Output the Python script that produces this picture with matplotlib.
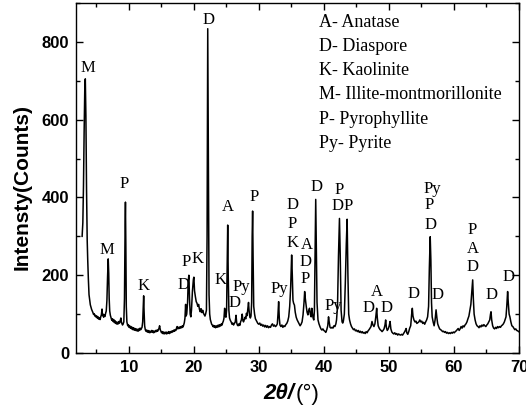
import matplotlib.pyplot as plt
from matplotlib.ticker import MultipleLocator

# XRD pattern (2theta in degrees, intensity in counts)
two_theta = [
    2.84, 2.95, 3.05, 3.15, 3.25, 3.33, 3.42, 3.52, 3.62, 3.70, 3.80, 3.90, 4.00, 4.10, 4.20, 4.30,
    4.40, 4.50, 4.60, 4.70, 4.80, 4.90, 5.00, 5.10, 5.20, 5.30, 5.40, 5.50, 5.60, 5.70, 5.80, 5.90,
    5.97, 6.05, 6.15, 6.25, 6.35, 6.45, 6.55, 6.65, 6.75, 6.85, 6.93, 7.00, 7.08, 7.18, 7.30, 7.40,
    7.50, 7.60, 7.70, 7.80, 7.90, 8.00, 8.10, 8.20, 8.30, 8.40, 8.50, 8.60, 8.70, 8.80, 8.88, 8.95,
    9.05, 9.15, 9.25, 9.35, 9.45, 9.50, 9.56, 9.63, 9.72, 9.85, 9.95, 10.05, 10.15, 10.25, 10.35, 10.45,
    10.55, 10.65, 10.75, 10.85, 10.95, 11.05, 11.15, 11.25, 11.35, 11.45, 11.55, 11.65, 11.75, 11.85, 11.95, 12.05,
    12.15, 12.25, 12.30, 12.36, 12.45, 12.55, 12.65, 12.75, 12.85, 12.95, 13.05, 13.15, 13.25, 13.35, 13.45, 13.55,
    13.65, 13.75, 13.85, 13.95, 14.05, 14.15, 14.25, 14.35, 14.45, 14.55, 14.65, 14.75, 14.85, 14.95, 15.05, 15.15,
    15.25, 15.35, 15.45, 15.55, 15.65, 15.75, 15.85, 15.95, 16.05, 16.15, 16.25, 16.35, 16.45, 16.55, 16.65, 16.75,
    16.85, 16.95, 17.05, 17.15, 17.25, 17.35, 17.45, 17.55, 17.65, 17.75, 17.85, 17.95, 18.05, 18.15, 18.25, 18.35,
    18.45, 18.55, 18.65, 18.75, 18.82, 18.92, 19.05, 19.15, 19.25, 19.35, 19.45, 19.55, 19.65, 19.80, 19.95, 20.02,
    20.12, 20.25, 20.38, 20.50, 20.62, 20.75, 20.88, 21.00, 21.12, 21.25, 21.38, 21.50, 21.62, 21.72, 21.82, 21.95,
    22.05, 22.15, 22.25, 22.35, 22.45, 22.55, 22.65, 22.75, 22.85, 22.95, 23.05, 23.15, 23.25, 23.35, 23.45, 23.55,
    23.65, 23.75, 23.85, 23.95, 24.05, 24.15, 24.25, 24.35, 24.45, 24.55, 24.65, 24.75, 24.85, 24.95, 25.05, 25.15,
    25.22, 25.30, 25.40, 25.50, 25.62, 25.75, 25.88, 26.00, 26.12, 26.25, 26.38, 26.50, 26.60, 26.70, 26.82, 26.95,
    27.08, 27.20, 27.32, 27.45, 27.55, 27.65, 27.78, 27.90, 28.00, 28.10, 28.20, 28.32, 28.42, 28.50, 28.60, 28.70,
    28.80, 28.90, 28.98, 29.05, 29.12, 29.22, 29.35, 29.48, 29.60, 29.72, 29.85, 30.00, 30.15, 30.30, 30.45, 30.60,
    30.75, 30.90, 31.05, 31.20, 31.35, 31.50, 31.65, 31.80, 31.95, 32.10, 32.25, 32.40, 32.55, 32.70, 32.85, 32.95,
    33.05, 33.15, 33.25, 33.40, 33.55, 33.70, 33.85, 34.00, 34.15, 34.30, 34.45, 34.60, 34.75, 34.90, 35.05, 35.15,
    35.25, 35.35, 35.48, 35.60, 35.75, 35.90, 36.05, 36.20, 36.35, 36.50, 36.65, 36.80, 36.95, 37.05, 37.15, 37.30,
    37.42, 37.55, 37.68, 37.80, 37.92, 38.05, 38.15, 38.25, 38.35, 38.45, 38.55, 38.65, 38.75, 38.85, 38.95, 39.10,
    39.25, 39.40, 39.55, 39.70, 39.85, 40.00, 40.15, 40.30, 40.45, 40.60, 40.72, 40.82, 40.95, 41.10, 41.25, 41.40,
    41.55, 41.70, 41.85, 41.95, 42.10, 42.25, 42.40, 42.52, 42.65, 42.80, 42.90, 43.00, 43.15, 43.30, 43.45, 43.58,
    43.70, 43.82, 43.95, 44.10, 44.25, 44.40, 44.55, 44.70, 44.85, 45.00, 45.15, 45.30, 45.45, 45.60, 45.75, 45.90,
    46.05, 46.20, 46.35, 46.50, 46.65, 46.80, 46.95, 47.10, 47.25, 47.40, 47.55, 47.70, 47.85, 48.00, 48.12, 48.22,
    48.35, 48.50, 48.65, 48.80, 48.95, 49.10, 49.25, 49.40, 49.50, 49.62, 49.75, 49.90, 50.05, 50.18, 50.30, 50.45,
    50.60, 50.75, 50.90, 51.05, 51.20, 51.35, 51.50, 51.65, 51.80, 51.95, 52.10, 52.25, 52.40, 52.55, 52.65, 52.75,
    52.90, 53.05, 53.20, 53.35, 53.50, 53.60, 53.70, 53.85, 54.00, 54.15, 54.30, 54.45, 54.60, 54.75, 54.90, 55.05,
    55.20, 55.35, 55.50, 55.65, 55.80, 55.95, 56.10, 56.22, 56.35, 56.45, 56.55, 56.65, 56.80, 56.95, 57.10, 57.25,
    57.38, 57.50, 57.65, 57.80, 57.95, 58.10, 58.25, 58.40, 58.55, 58.70, 58.85, 59.00, 59.15, 59.30, 59.45, 59.60,
    59.75, 59.90, 60.05, 60.20, 60.35, 60.50, 60.65, 60.80, 60.95, 61.10, 61.25, 61.40, 61.55, 61.70, 61.85, 62.00,
    62.15, 62.30, 62.45, 62.60, 62.75, 62.88, 62.98, 63.10, 63.25, 63.40, 63.55, 63.70, 63.85, 64.00, 64.15, 64.30,
    64.45, 64.60, 64.75, 64.90, 65.05, 65.20, 65.35, 65.50, 65.62, 65.70, 65.80, 65.95, 66.10, 66.25, 66.40, 66.55,
    66.70, 66.85, 67.00, 67.15, 67.30, 67.45, 67.60, 67.75, 67.90, 68.00, 68.12, 68.25, 68.35, 68.48, 68.60, 68.75,
    68.90, 69.05, 69.20, 69.35, 69.50, 69.65, 69.80, 69.95,
]
intensity = [
    300, 335, 430, 570, 680, 705, 610, 420, 290, 240, 190, 150, 136, 124, 118, 112,
    108, 104, 99, 101, 95, 97, 92, 95, 89, 93, 87, 90, 86, 93, 98, 113,
    96, 100, 92, 98, 94, 102, 108, 135, 195, 242, 205, 140, 108, 97, 90, 84,
    88, 81, 86, 78, 83, 76, 80, 74, 79, 75, 81, 77, 83, 90, 80, 76,
    72, 75, 80, 140, 330, 388, 280, 120, 80, 70, 73, 66, 70, 64, 68, 62,
    66, 60, 65, 59, 63, 58, 62, 57, 61, 56, 62, 58, 64, 60, 63, 66,
    80, 130, 147, 110, 70, 60, 56, 59, 54, 58, 53, 57, 52, 56, 54, 58,
    53, 57, 52, 56, 54, 58, 55, 59, 56, 60, 63, 70, 60, 56, 52, 55,
    50, 54, 49, 53, 50, 54, 49, 53, 51, 55, 50, 54, 52, 56, 53, 57,
    55, 59, 56, 60, 58, 64, 68, 62, 66, 63, 67, 64, 68, 65, 70, 67,
    72, 78, 90, 125, 95, 100, 130, 185, 200, 140, 100, 93, 110, 160, 190, 195,
    160, 145, 132, 128, 120, 125, 112, 106, 114, 104, 110, 102, 98, 95, 100, 110,
    300, 834, 500, 150, 100, 86, 80, 74, 72, 68, 71, 66, 70, 65, 69, 66,
    71, 67, 72, 68, 73, 70, 75, 72, 78, 82, 90, 115, 95, 92, 110, 250,
    329, 200, 110, 90, 84, 80, 74, 77, 72, 76, 80, 97, 78, 72, 70, 75,
    71, 80, 85, 100, 84, 80, 86, 92, 88, 102, 96, 115, 130, 110, 95, 90,
    95, 130, 300, 365, 250, 120, 100, 88, 84, 80, 76, 74, 77, 71, 74, 69,
    72, 67, 71, 66, 70, 65, 68, 66, 72, 75, 69, 72, 68, 70, 75, 100,
    132, 90, 72, 68, 72, 66, 70, 68, 73, 76, 82, 93, 120, 170, 252, 200,
    136, 128, 123, 105, 92, 85, 80, 75, 70, 74, 80, 98, 130, 158, 140, 119,
    105, 98, 110, 115, 100, 93, 115, 100, 90, 85, 110, 250, 395, 260, 130, 85,
    75, 68, 62, 59, 62, 58, 56, 53, 60, 70, 93, 80, 66, 64, 66, 64,
    70, 68, 75, 85, 120, 250, 346, 250, 110, 80, 77, 82, 100, 180, 280, 344,
    200, 100, 85, 75, 68, 64, 60, 62, 57, 59, 55, 58, 53, 56, 52, 55,
    51, 53, 50, 55, 52, 57, 60, 64, 68, 81, 72, 68, 75, 95, 115, 90,
    70, 64, 60, 58, 55, 58, 62, 72, 85, 65, 58, 62, 70, 81, 62, 54,
    51, 49, 52, 48, 50, 46, 49, 47, 46, 48, 46, 50, 54, 59, 63, 52,
    48, 55, 64, 70, 100, 115, 95, 85, 80, 82, 76, 78, 80, 85, 80, 82,
    76, 79, 74, 80, 85, 93, 120, 220, 299, 240, 130, 93, 80, 70, 85, 111,
    90, 75, 68, 62, 60, 58, 55, 56, 53, 55, 51, 53, 50, 52, 50, 53,
    51, 54, 52, 55, 57, 60, 63, 58, 62, 68, 64, 70, 67, 72, 75, 80,
    88, 95, 110, 125, 160, 188, 140, 100, 85, 75, 70, 68, 65, 70, 67, 72,
    69, 73, 70, 68, 72, 75, 80, 85, 100, 106, 85, 70, 64, 62, 66, 63,
    68, 65, 68, 66, 70, 72, 75, 80, 88, 93, 120, 158, 130, 100, 93, 80,
    70, 68, 64, 60, 62, 58, 57, 55,
]

# peak labels: text, x, y (data coords)
peak_text = ['M', 'M', 'P', 'K', 'D', 'P', 'K', 'D', 'K', 'A', 'D', 'Py', 'P', 'Py',
             'D', 'P', 'K', 'A', 'D', 'P', 'D', 'Py', 'P', 'D', 'P',
             'D', 'A', 'D', 'D', 'Py', 'P', 'D', 'D', 'P', 'A', 'D', 'D', 'D']
peak_x = [3.65, 6.7, 9.3, 12.3, 18.35, 18.8, 20.6, 22.3, 24.1, 25.3, 26.3, 27.3, 29.3, 33.2,
          35.15, 35.15, 35.15, 37.45, 37.2, 37.2, 38.9, 41.45, 42.3, 42.1, 43.7,
          46.9, 48.1, 49.7, 53.8, 56.7, 56.2, 56.35, 57.5, 62.85, 62.85, 62.85, 65.7, 68.4]
peak_y = [733, 266, 434, 172, 175, 233, 241, 856, 188, 375, 129, 169, 401, 164,
          380, 331, 282, 278, 235, 190, 428, 121, 419, 378, 378,
          115, 158, 115, 151, 421, 380, 329, 149, 316, 267, 222, 149, 195]

phases = ['A- Anatase', 'D- Diaspore', 'K- Kaolinite', 'M- Illite-montmorillonite',
          'P- Pyrophyllite', 'Py- Pyrite']

fig = plt.figure(figsize=(5.26, 4.08), dpi=100)
ax = fig.add_axes([0.1445, 0.1348, 0.8422, 0.8578])

ax.plot(two_theta, intensity, color='black', linewidth=1.1)

for t, x, y in zip(peak_text, peak_x, peak_y):
    ax.text(x, y, t, ha='center', va='center', fontsize=12, family='Liberation Serif')

for i, name in enumerate(phases):
    ax.text(0.548, 0.943 - i * 0.0686, name, transform=ax.transAxes, ha='left', va='center',
            fontsize=13, family='Liberation Serif')

ax.set_xlim(1.9, 70)
ax.set_ylim(0, 900)
ax.xaxis.set_major_locator(MultipleLocator(10))
ax.xaxis.set_minor_locator(MultipleLocator(5))
ax.yaxis.set_major_locator(MultipleLocator(200))
ax.yaxis.set_minor_locator(MultipleLocator(100))
ax.tick_params(which='both', direction='in', top=True, right=True, width=1)
ax.tick_params(which='major', length=5, pad=5)
ax.tick_params(which='minor', length=3)
for lab in ax.get_xticklabels() + ax.get_yticklabels():
    lab.set_fontfamily('Liberation Sans')
    lab.set_fontweight('bold')
    lab.set_fontsize(12)
for s in ax.spines.values():
    s.set_linewidth(1.0)

ax.set_ylabel('Intensty(Counts)', fontsize=15, fontweight='bold', family='Liberation Sans')
ax.yaxis.set_label_coords(-0.1, 0.473)

# x label: bold italic "2θ/" followed by regular "(°)"
ax.text(0.492, -0.117, '2\u03b8/', transform=ax.transAxes, ha='right', va='center',
        fontsize=16, fontweight='bold', fontstyle='italic', family='Liberation Sans')
ax.text(0.495, -0.117, '(\u00b0)', transform=ax.transAxes, ha='left', va='center',
        fontsize=16, family='Liberation Sans')

fig.savefig('out.png', dpi=100)
